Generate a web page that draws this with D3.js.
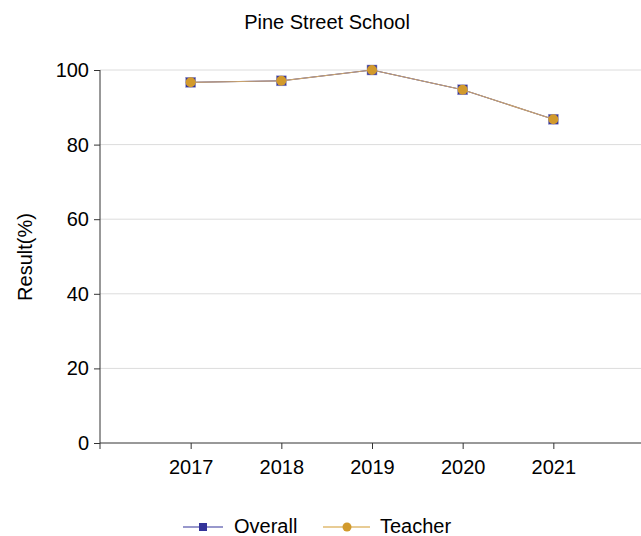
<!DOCTYPE html>
<html><head><meta charset="utf-8">
<script src="https://cdn.jsdelivr.net/npm/d3@7"></script>
<style>body{margin:0;background:#fff;font-family:"Liberation Sans",Arial,sans-serif;}</style>
</head><body>
<svg id="c" width="641" height="536"></svg>
<script>
const years = ["2017","2018","2019","2020","2021"];
const overall = [96.7, 97.1, 100, 94.7, 86.8];
const teacher = [96.7, 97.1, 100, 94.7, 86.8];
const yTicks = [0,20,40,60,80,100];

const svg = d3.select("#c");
const x = d3.scalePoint().domain(years).range([100, 644]).padding(1);
const y = d3.scaleLinear().domain([0,100]).range([443, 70]);
const font = "'Liberation Sans', Arial, sans-serif";

svg.append("text").attr("x", 327).attr("y", 29).attr("text-anchor","middle")
  .style("font-family",font).style("font-size","20px").text("Pine Street School");

// gridlines
svg.append("g").selectAll("line").data(yTicks.filter(d=>d>0)).join("line")
  .attr("x1",100).attr("x2",641).attr("y1",d=>y(d)).attr("y2",d=>y(d))
  .attr("stroke","#dcdcdc").attr("stroke-width",1);

const yAxis = svg.append("g").attr("transform","translate(100,0)")
  .call(d3.axisLeft(y).tickValues(yTicks).tickSize(6).tickPadding(5));
yAxis.select(".domain").attr("stroke","#333").attr("d","M0,443V70");
yAxis.selectAll("text").style("font-family",font).style("font-size","20px").attr("fill","#000");
yAxis.selectAll("line").attr("stroke","#333");

const xAxis = svg.append("g").attr("transform","translate(0,443)")
  .call(d3.axisBottom(x).tickSize(6).tickPadding(11));
xAxis.select(".domain").attr("stroke","#333").attr("d","M100,0H641");
xAxis.selectAll("text").style("font-family",font).style("font-size","20px").attr("fill","#000");
xAxis.selectAll("line").attr("stroke","#333");
svg.append("line").attr("x1",100).attr("x2",100).attr("y1",443).attr("y2",449).attr("stroke","#333");

svg.append("text").attr("transform","translate(32,257) rotate(-90)").attr("text-anchor","middle")
  .style("font-family",font).style("font-size","20px").text("Result(%)");

const line = d3.line().x((d,i)=>x(years[i])).y(d=>y(d));
const navy = "#333399", gold = "#d29a2c", tan = "#c8a26e";
svg.append("path").datum(overall).attr("d",line).attr("fill","none").attr("stroke",navy).attr("stroke-width",1);
svg.selectAll(".sq").data(overall).join("rect").attr("class","sq")
  .attr("x",(d,i)=>x(years[i])-5).attr("y",d=>y(d)-5).attr("width",10).attr("height",10)
  .attr("fill",navy).attr("stroke","#9999cc").attr("stroke-width",0.5);
svg.append("path").datum(teacher).attr("d",line).attr("fill","none").attr("stroke",tan).attr("stroke-width",1.2);
svg.selectAll(".ci").data(teacher).join("circle").attr("class","ci")
  .attr("cx",(d,i)=>x(years[i])).attr("cy",d=>y(d)).attr("r",5).attr("fill",gold);

// legend
const lg = svg.append("g");
lg.append("line").attr("x1",183).attr("x2",223).attr("y1",527).attr("y2",527).attr("stroke",navy).attr("stroke-width",1.2);
lg.append("rect").attr("x",199).attr("y",523).attr("width",8).attr("height",8).attr("fill",navy);
lg.append("text").attr("x",234).attr("y",533).style("font-family",font).style("font-size","20px").text("Overall");
lg.append("line").attr("x1",323).attr("x2",370).attr("y1",527).attr("y2",527).attr("stroke",gold).attr("stroke-width",1.2);
lg.append("circle").attr("cx",347).attr("cy",527).attr("r",4.5).attr("fill",gold);
lg.append("text").attr("x",380).attr("y",533).style("font-family",font).style("font-size","20px").text("Teacher");
</script>
</body></html>
